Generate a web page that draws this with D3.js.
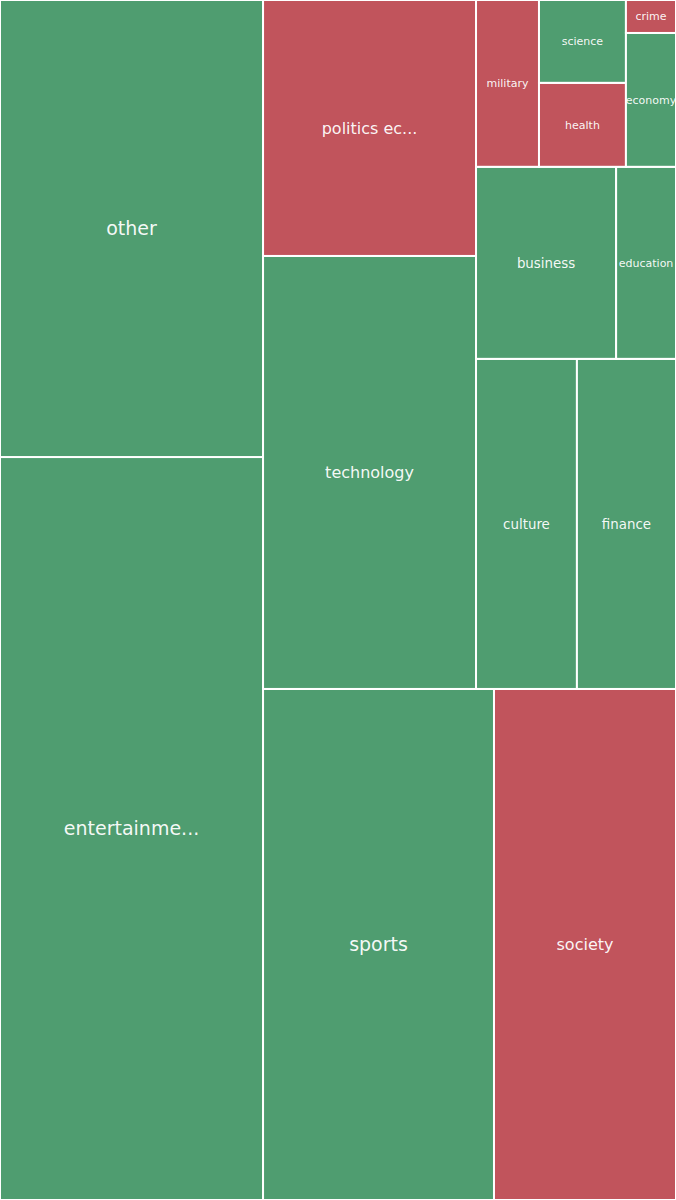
<!DOCTYPE html>
<html>
<head>
<meta charset="utf-8">
<script src="https://cdn.jsdelivr.net/npm/d3@7"></script>
<style>
  html, body { margin: 0; padding: 0; background: #fff; }
  svg { display: block; }
</style>
</head>
<body>
<div id="chart"></div>
<script>
// ---- data ----
const categories = ["other", "entertainment", "politics economy", "technology", "sports", "society",
  "culture", "finance", "business", "education", "military", "health", "science", "economy", "crime"];
const values = [120.2, 195.4, 54.5, 92.2, 118.0, 93.0, 33.3, 32.7, 26.9, 11.5, 10.5, 7.3, 7.2, 6.7, 1.65];
const sentiment = ["positive", "positive", "negative", "positive", "positive", "negative",
  "positive", "positive", "positive", "positive", "negative", "negative", "positive", "positive", "negative"];

const W = 676, H = 1200;
const color = d3.scaleOrdinal().domain(["positive", "negative"]).range(["#4f9d70", "#c1545c"]);
const fontSize = d3.scaleThreshold().domain([20, 40, 100]).range([11, 13.4, 16, 19]);

const root = d3.hierarchy({
  name: "root",
  children: categories.map((c, i) => ({ name: c, value: values[i], sentiment: sentiment[i] }))
}).sum(d => d.value || 0).sort((a, b) => b.value - a.value);

d3.treemap().tile(d3.treemapSquarify.ratio(1)).size([1, 1])(root);

const x = d3.scaleLinear().domain([0, 1]).range([0, W]);
const y = d3.scaleLinear().domain([0, 1]).range([H, 0]);

const svg = d3.select("#chart").append("svg").attr("width", W).attr("height", H);

const cell = svg.selectAll("g").data(root.leaves()).join("g");

cell.append("rect")
  .attr("x", d => x(d.x0))
  .attr("y", d => y(d.y1))
  .attr("width", d => x(d.x1) - x(d.x0))
  .attr("height", d => y(d.y0) - y(d.y1))
  .attr("fill", d => color(d.data.sentiment))
  .attr("stroke", "#ffffff")
  .attr("stroke-width", 2);

const trunc = s => s.length > 12 ? s.slice(0, 11) + "..." : s;

cell.append("text")
  .attr("x", d => (x(d.x0) + x(d.x1)) / 2)
  .attr("y", d => (y(d.y0) + y(d.y1)) / 2)
  .attr("dy", "0.35em")
  .attr("text-anchor", "middle")
  .attr("font-family", "'DejaVu Sans', sans-serif")
  .attr("font-size", d => fontSize(d.value))
  .attr("fill", "#ffffff")
  .attr("fill-opacity", 0.95)
  .text(d => trunc(d.data.name));
</script>
</body>
</html>
